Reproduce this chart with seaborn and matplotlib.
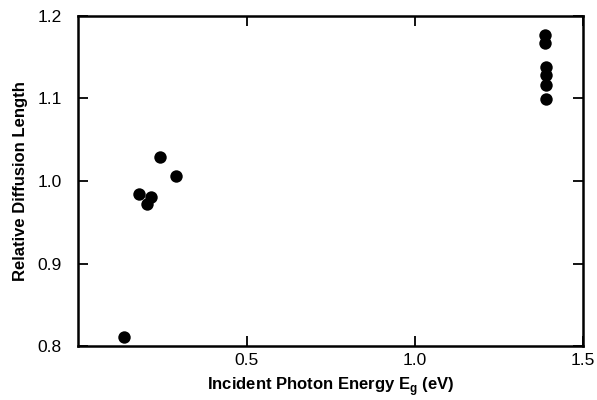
import matplotlib
matplotlib.use("Agg")
import matplotlib.pyplot as plt
import seaborn as sns
import pandas as pd

energy = [0.135, 0.179, 0.203, 0.215, 0.242, 0.290,
          1.386, 1.386, 1.389, 1.390, 1.388, 1.389]
diffusion = [0.811, 0.984, 0.972, 0.981, 1.029, 1.006,
             1.177, 1.167, 1.138, 1.129, 1.116, 1.099]
xticks = [0.5, 1.0, 1.5]
yticks = [0.8, 0.9, 1.0, 1.1, 1.2]

sns.set_style("white")
plt.rcParams['font.family'] = ['Liberation Sans', 'DejaVu Sans']
plt.rcParams['text.color'] = 'black'
plt.rcParams['axes.labelcolor'] = 'black'

df = pd.DataFrame({"E": energy, "L": diffusion})
fig = plt.figure(figsize=(5.97, 4.0), dpi=100)
ax = fig.add_axes([0.1313, 0.135, 0.977 - 0.1313, 0.96 - 0.135])
sns.scatterplot(data=df, x="E", y="L", ax=ax, color="black", s=80,
                edgecolor="black", linewidth=0, legend=False)
ax.set_xlim(0, 1.5)
ax.set_ylim(0.8, 1.2)
ax.set_xticks(xticks)
ax.set_xticklabels(["0.5", "1.0", "1.5"])
ax.set_yticks(yticks)
ax.set_yticklabels(["0.8", "0.9", "1.0", "1.1", "1.2"])
ax.tick_params(direction="in", length=7, width=1.3, top=True, right=True,
               bottom=True, left=True, labelsize=12.5, colors="black")
ax.tick_params(axis="y", pad=12)
ax.tick_params(axis="x", pad=5)
for sp in ax.spines.values():
    sp.set_linewidth(1.8)
    sp.set_color("black")
ax.set_xlabel(r"Incident Photon Energy E$_\mathregular{g}$ (eV)",
              fontsize=12, fontweight="bold", labelpad=5, color="black")
ax.set_ylabel("Relative Diffusion Length", fontsize=12, fontweight="bold",
              labelpad=7, color="black")
fig.savefig("out.png", dpi=100)
